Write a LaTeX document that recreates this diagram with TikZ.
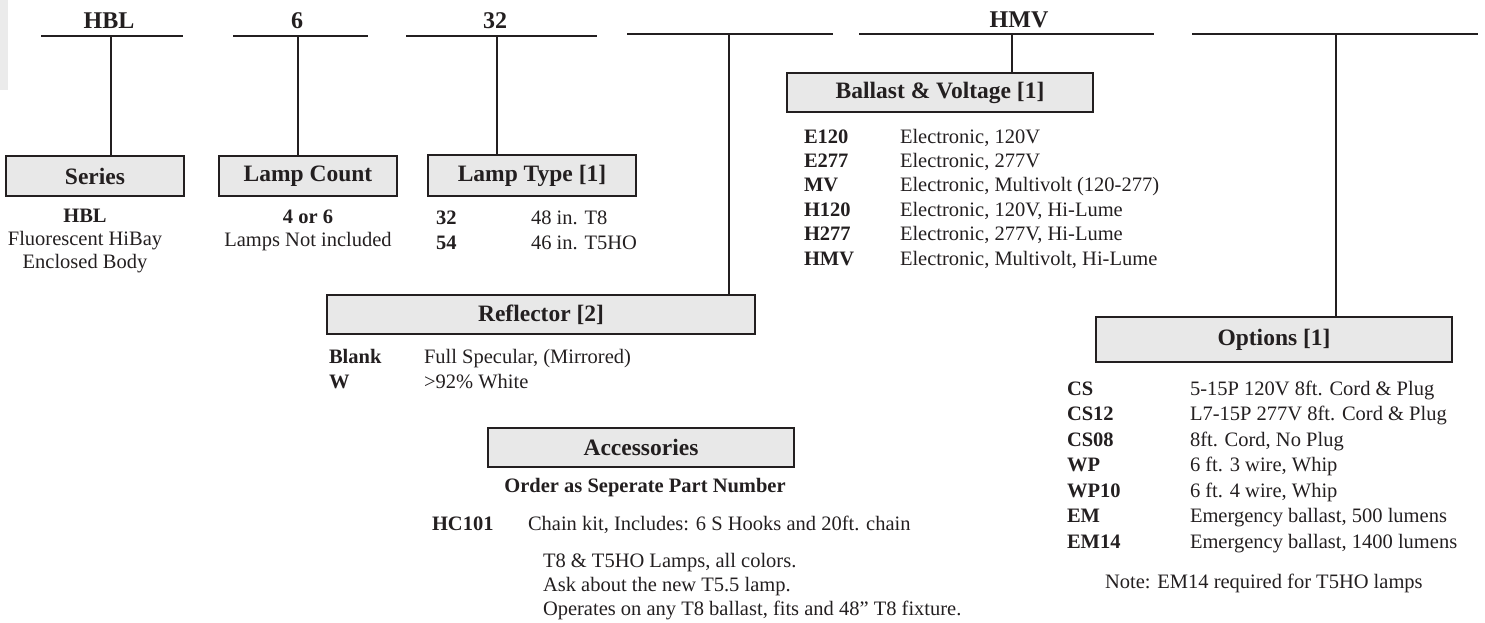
\documentclass[tikz,border=0pt]{standalone}
\usepackage{fontspec}
\setmainfont{Liberation Serif}
\definecolor{ink}{HTML}{231F20}
\definecolor{boxfill}{HTML}{E8E8E8}
\definecolor{strip}{HTML}{EBEBEB}
\begin{document}
\begin{tikzpicture}[x=1pt,y=-1pt,
  every node/.style={text=ink, inner sep=0pt, outer sep=0pt},
  rule/.style={draw=ink, line width=2pt},
  catbox/.style={draw=ink, line width=2.4pt, fill=boxfill, font=\fontsize{23.5}{28}\selectfont\bfseries, anchor=center},
  hdr/.style={font=\fontsize{24}{28}\selectfont\bfseries, anchor=base},
  body/.style={font=\fontsize{20.5}{24}\selectfont, anchor=base west},
  code/.style={font=\fontsize{20.5}{24}\selectfont\bfseries, anchor=base west},
  ctr/.style={font=\fontsize{20.5}{24}\selectfont, anchor=base},
  ctrb/.style={font=\fontsize{20.5}{24}\selectfont\bfseries, anchor=base}]
\useasboundingbox (0,0) rectangle (1485,623);
\fill[strip] (0,0) rectangle (8,90);

% header lines
\coordinate (h1l) at (41,36);  \coordinate (h1r) at (183,36);  \coordinate (v1) at (111,36);
\coordinate (h2l) at (233,36); \coordinate (h2r) at (368,36);  \coordinate (v2) at (298,36);
\coordinate (h3l) at (406,36); \coordinate (h3r) at (597,36);  \coordinate (v3) at (497,36);
\coordinate (h4l) at (627,34); \coordinate (h4r) at (833,34);  \coordinate (v4) at (729,34);
\coordinate (h5l) at (859,34); \coordinate (h5r) at (1154,34); \coordinate (v5) at (1012,34);
\coordinate (h6l) at (1192,34);\coordinate (h6r) at (1478,34); \coordinate (v6) at (1336,34);
\foreach \i in {1,...,6} { \draw[rule] (h\i l) -- (h\i r); }

\node[hdr] (lblA) at (109,29) {HBL};
\node[hdr] (lblB) at (297,29) {6};
\node[hdr] (lblC) at (495,29) {32};
\node[hdr] (lblE) at (1019,28) {HMV};

% category boxes
\node[catbox, minimum width=178, minimum height=40] (series) at (95,176) {Series};
\node[catbox, minimum width=178, minimum height=40] (count) at (308,176) {Lamp Count};
\node[catbox, minimum width=208, minimum height=41] (ltype) at (532,175.5) {Lamp Type [1]};
\node[catbox, minimum width=428, minimum height=39] (refl) at (541,314.5) {Reflector [2]};
\node[catbox, minimum width=306, minimum height=39] (ballast) at (940,92.5) {Ballast \& Voltage [1]};
\node[catbox, minimum width=306, minimum height=39] (acc) at (641,447.5) {Accessories};
\node[catbox, minimum width=356, minimum height=45] (opts) at (1274,339.5) {Options [1]};

% connectors
\draw[rule] (v1) -- (v1 |- series.north);
\draw[rule] (v2) -- (v2 |- count.north);
\draw[rule] (v3) -- (v3 |- ltype.north);
\draw[rule] (v4) -- (v4 |- refl.north);
\draw[rule] (v5) -- (v5 |- ballast.north);
\draw[rule] (v6) -- (v6 |- opts.north);

% Series
\node[ctrb] (s1) at (85,222) {HBL};
\node[ctr] (s2) at (85,245) {Fluorescent HiBay};
\node[ctr] (s3) at (85,268) {Enclosed Body};
% Lamp count
\node[ctrb] (c1) at (308,223) {4 or 6};
\node[ctr] (c2) at (308,246.5) {Lamps Not included};
% Lamp type
\node[code] (t1) at (436,224) {32};  \node[body] (t1d) at (531,224) {48 in. T8};
\node[code] (t2) at (436,249) {54};  \node[body] (t2d) at (531,249) {46 in. T5HO};
% Reflector
\node[code] (r1) at (329,363) {Blank}; \node[body] (r1d) at (424,363) {Full Specular, (Mirrored)};
\node[code] (r2) at (329,388) {W};     \node[body] (r2d) at (424,388) {>92\% White};
% Ballast
\foreach \c/\d [count=\k from 0] in {E120/{Electronic, 120V},E277/{Electronic, 277V},MV/{Electronic, Multivolt (120-277)},H120/{Electronic, 120V, Hi-Lume},H277/{Electronic, 277V, Hi-Lume},HMV/{Electronic, Multivolt, Hi-Lume}} {
  \node[code] (b\k) at (804,143+24.4*\k) {\c};
  \node[body] (bd\k) at (900,143+24.4*\k) {\d};
}
% Options
\foreach \c/\d [count=\k from 0] in {CS/{5-15P 120V 8ft. Cord \& Plug},CS12/{L7-15P 277V 8ft. Cord \& Plug},CS08/{8ft. Cord, No Plug},WP/{6 ft. 3 wire, Whip},WP10/{6 ft. 4 wire, Whip},EM/{Emergency ballast, 500 lumens},EM14/{Emergency ballast, 1400 lumens}} {
  \node[code] (o\k) at (1067,395+25.5*\k) {\c};
  \node[body] (od\k) at (1190,395+25.5*\k) {\d};
}
\node[body] (note) at (1105,588) {Note: EM14 required for T5HO lamps};
% Accessories
\node[ctrb] (ord) at (645,492) {Order as Seperate Part Number};
\node[code] (a1) at (432,530) {HC101};
\node[body] (a1d) at (528,530) {Chain kit, Includes: 6 S Hooks and 20ft. chain};
\node[body] (a2) at (543,567) {T8 \& T5HO Lamps, all colors.};
\node[body] (a3) at (543,591) {Ask about the new T5.5 lamp.};
\node[body] (a4) at (543,615) {Operates on any T8 ballast, fits and 48” T8 fixture.};
\end{tikzpicture}
\end{document}
